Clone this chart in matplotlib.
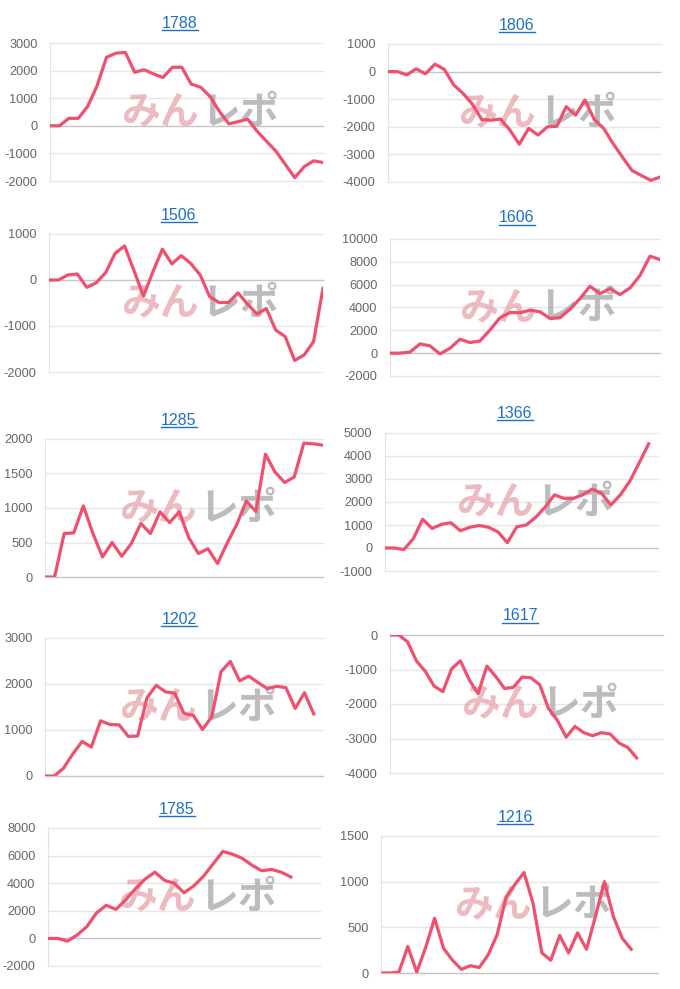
import matplotlib
matplotlib.use('Agg')
import matplotlib.pyplot as plt
from matplotlib.lines import Line2D

plt.rcParams['font.family'] = ['Liberation Sans', 'DejaVu Sans']
plt.rcParams['axes.unicode_minus'] = False

W, H = 680, 989

titles = ['1788', '1806', '1506', '1606', '1285', '1366', '1202', '1617', '1785', '1216']

v1788 = [0, 0, 270, 270, 700, 1450, 2480, 2630, 2660, 1940, 2030, 1880, 1750, 2120, 2120,
         1510, 1400, 1060, 520, 70, 150, 240, -200, -560, -920, -1400, -1880, -1480, -1270, -1330]
v1806 = [0, 0, -120, 100, -80, 270, 80, -480, -790, -1180, -1740, -1760, -1720, -2120, -2630,
         -2060, -2300, -2000, -1980, -1270, -1580, -1030, -1740, -2060, -2610, -3100, -3580, -3760, -3940, -3820]
v1506 = [0, 0, 110, 130, -160, -60, 160, 580, 740, 200, -350, 180, 670, 350, 530,
         360, 110, -360, -490, -490, -280, -520, -740, -620, -1090, -1230, -1750, -1630, -1340, -180]
v1606 = [0, 0, 100, 810, 640, -60, 430, 1220, 930, 1070, 2030, 3100, 3560, 3540, 3770,
         3620, 3040, 3100, 3860, 4780, 5860, 5220, 5650, 5130, 5710, 6810, 8490, 8200]
v1285 = [0, 0, 630, 640, 1030, 630, 290, 500, 300, 485, 775, 630, 945, 790, 945,
         570, 340, 410, 195, 490, 760, 1100, 950, 1780, 1520, 1370, 1450, 1940, 1930, 1910]
v1366 = [0, 0, -70, 400, 1250, 850, 1030, 1100, 750, 900, 980, 900, 700, 230, 920,
         1000, 1330, 1770, 2310, 2160, 2160, 2310, 2560, 2380, 1870, 2310, 2900, 3700, 4530]
v1202 = [0, 0, 170, 480, 750, 630, 1200, 1120, 1110, 860, 870, 1700, 1970, 1830, 1800,
         1360, 1320, 1010, 1290, 2270, 2490, 2070, 2170, 2030, 1900, 1950, 1920, 1470, 1810, 1350]
v1617 = [0, 0, -200, -750, -1050, -1480, -1640, -980, -750, -1300, -1700, -900, -1200, -1550, -1520,
         -1220, -1240, -1440, -2130, -2470, -2960, -2650, -2830, -2920, -2830, -2870, -3130, -3260, -3560]
v1785 = [0, 0, -200, 250, 850, 1850, 2400, 2100, 2800, 3600, 4300, 4800, 4200, 4000, 3300,
         3800, 4500, 5400, 6300, 6100, 5800, 5300, 4900, 5000, 4800, 4450]
v1216 = [0, 0, 10, 290, 10, 280, 600, 270, 140, 40, 80, 60, 200, 420, 830,
         970, 1100, 770, 220, 140, 410, 220, 440, 260, 620, 1000, 620, 380, 260]

series = [v1788, v1806, v1506, v1606, v1285, v1366, v1202, v1617, v1785, v1216]
n_slots = [30, 30, 30, 28, 30, 30, 31, 32, 29, 32]

y_min = [-2000, -4000, -2000, -2000, 0, -1000, 0, -4000, -2000, 0]
y_max = [3000, 1000, 1000, 10000, 2000, 5000, 3000, 0, 8000, 1500]
y_step = [1000, 1000, 1000, 2000, 500, 1000, 1000, 1000, 2000, 500]

# plot boxes in pixels: x0, y0(top), x1, y1(bottom)
boxes = [(50, 43, 323, 181), (388, 44, 660, 182),
         (49, 234, 323, 372), (390, 239, 660, 376),
         (45, 439, 323, 577), (385, 433, 658, 571),
         (45, 638, 323, 776), (390, 635, 663, 773),
         (48, 828, 320, 966), (381, 836, 658, 973)]
title_pos = [(180, 23), (517, 25), (179, 215), (517, 218), (179, 420),
             (515, 413), (179, 619), (520, 616), (177, 809), (515, 817)]

line_color = '#f04f6d'
title_color = '#1f6fc8'

fig = plt.figure(figsize=(W / 100, H / 100), dpi=100)

title_texts = []
for i in range(len(titles)):
    x0, y0, x1, y1 = boxes[i]
    ax = fig.add_axes([x0 / W, 1 - y1 / H, (x1 - x0) / W, (y1 - y0) / H])
    vals = series[i]
    ax.plot(range(len(vals)), vals, color=line_color, lw=2.3, zorder=5)
    ax.set_xlim(0, n_slots[i] - 1)
    ax.set_ylim(y_min[i], y_max[i])
    ticks = list(range(y_min[i], y_max[i] + 1, y_step[i]))
    ax.set_yticks(ticks)
    ax.set_xticks([])
    for t in ticks:
        c = '#c4c4c4' if t == 0 else '#e6e6e6'
        ax.axhline(t, color=c, lw=1, clip_on=False, zorder=1)
    for s in ['top', 'right', 'bottom']:
        ax.spines[s].set_visible(False)
    ax.spines['left'].set_color('#e2e2e2')
    ax.tick_params(axis='y', length=0, pad=9, labelsize=9.2, labelcolor='#666666')

    # watermark
    ax.text(0.545, 0.50, 'みん', transform=ax.transAxes, ha='right', va='center',
            fontsize=28, fontweight='bold', color='#e8a3aa', alpha=0.75,
            family=['Noto Sans CJK JP'], zorder=2)
    ax.text(0.555, 0.50, 'レポ', transform=ax.transAxes, ha='left', va='center',
            fontsize=28, fontweight='bold', color='#a6a6a6', alpha=0.75,
            family=['Noto Sans CJK JP'], zorder=2)

    tx, ty = title_pos[i]
    tt = fig.text(tx / W, 1 - ty / H, titles[i], ha='center', va='center',
                  fontsize=11.5, color=title_color)
    title_texts.append(tt)

# underline the titles
fig.canvas.draw()
r = fig.canvas.get_renderer()
for tt in title_texts:
    bb = tt.get_window_extent(renderer=r)
    yline = bb.y0 + 0.5
    fig.add_artist(Line2D([bb.x0 / W, bb.x1 / W], [yline / H, yline / H],
                          color=title_color, lw=1, transform=fig.transFigure))

fig.savefig('out.png', dpi=100)
